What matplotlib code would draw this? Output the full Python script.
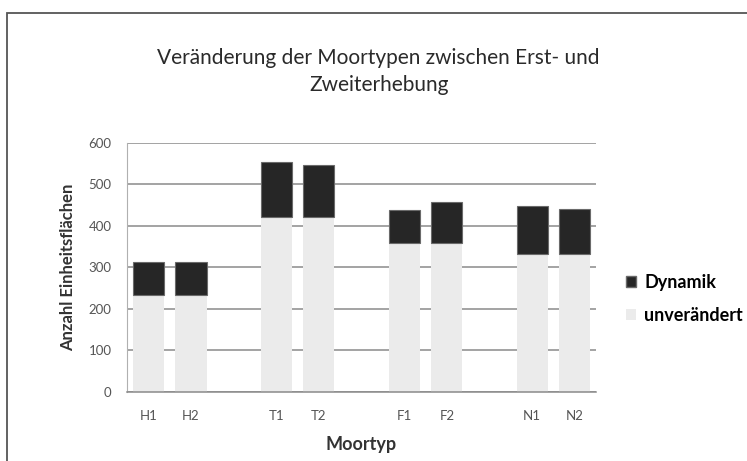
import numpy as np
import matplotlib
matplotlib.use("Agg")
import matplotlib.pyplot as plt
from matplotlib.patches import Rectangle, Patch

# data
kategorien = ["H1", "H2", "T1", "T2", "F1", "F2", "N1", "N2"]
unveraendert = [234, 234, 421, 421, 359, 359, 332, 332]
dynamik = [79, 79, 133, 125, 80, 99, 117, 108]
y_ticks = [0, 100, 200, 300, 400, 500, 600]

plt.rcParams['font.family'] = ['Lato', 'DejaVu Sans']

fig = plt.figure(figsize=(7.47, 4.61), dpi=100)
ax = fig.add_axes([0.170, 0.150, 0.628, 0.540])

# pairs with a gap slot between groups
pos = np.array([0, 1, 3, 4, 6, 7, 9, 10])
breite = 0.73

ax.bar(pos, unveraendert, width=breite, color="#ebebeb", linewidth=0,
       zorder=2)
ax.bar(pos, dynamik, bottom=unveraendert, width=breite, color="#262626",
       edgecolor="#6a6a6a", linewidth=0.8, zorder=2)

ax.set_xlim(-0.5, 10.5)
ax.set_ylim(0, 600)
ax.set_yticks(y_ticks)
ax.set_xticks(pos)
ax.set_xticklabels(kategorien)
ax.tick_params(length=0, labelsize=9.5, colors="#555555")
ax.tick_params(axis="x", pad=13)
ax.tick_params(axis="y", pad=11)
ax.yaxis.grid(True, color="#8a8a8a", linewidth=1.1, zorder=0)
ax.set_axisbelow(True)

for s in ["top", "right"]:
    ax.spines[s].set_visible(False)
ax.spines["left"].set_color("#b0b0b0")
ax.spines["bottom"].set_color("#8a8a8a")
ax.spines["bottom"].set_linewidth(1.1)

ax.set_ylabel("Anzahl Einheitsflächen", fontsize=12, fontweight="bold",
              color="#333333", labelpad=9)
ax.set_xlabel("Moortyp", fontsize=13, fontweight="bold", color="#333333",
              labelpad=10)

fig.text(0.507, 0.845, "Veränderung der Moortypen zwischen Erst- und\nZweiterhebung",
         ha="center", va="center", fontsize=15, color="#2a2a2a",
         linespacing=1.4)

handles = [Patch(facecolor="#262626", edgecolor="#6a6a6a", label="Dynamik"),
           Patch(facecolor="#ebebeb", edgecolor="none", label="unverändert")]
fig.legend(handles=handles, loc="upper left", bbox_to_anchor=(0.838, 0.405),
           frameon=False, handlelength=0.55, handleheight=0.55,
           handletextpad=0.45, labelspacing=0.85, borderaxespad=0,
           borderpad=0, prop={"weight": "bold", "size": 13})

# outer chart frame (right/bottom edges lie outside the crop)
fig.patches.append(Rectangle((7 / 747, -0.1), 1.2, 1.1 - 13 / 461,
                             transform=fig.transFigure, fill=False,
                             edgecolor="#555555", linewidth=1.3))

fig.savefig("out.png", dpi=100)
